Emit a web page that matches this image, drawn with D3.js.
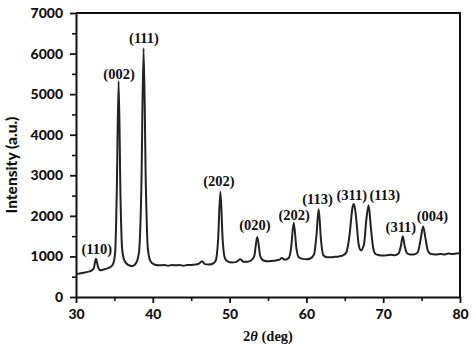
<!DOCTYPE html>
<html>
<head>
<meta charset="utf-8">
<script src="https://cdn.jsdelivr.net/npm/d3@7"></script>
<style>
  body { margin: 0; background: #fff; }
  svg { display: block; }
  .tick text { font-family: Lato, "Open Sans", sans-serif; font-weight: 900; font-size: 14px; fill: #111; }
  .peak { font-family: "Liberation Serif", serif; font-weight: bold; font-size: 14.5px; fill: #111; }
</style>
</head>
<body>
<div id="chart"></div>
<script>
// XRD pattern: 2theta (deg) and intensity (a.u.)
let twoTheta = [30, 30.5, 31, 31.5, 32, 32.3, 32.6, 32.9, 33.2, 33.6, 34, 34.4, 34.8, 35.1, 35.3, 35.55, 35.8, 36.0, 36.3, 36.8,
  37.3, 37.8, 38.2, 38.5, 38.8, 39.1, 39.35, 39.7, 40.2, 40.8, 41.5, 42, 42.5, 43, 43.5, 44, 44.5, 45, 45.6, 46,
  46.4, 46.8, 47.3, 47.8, 48.2, 48.5, 48.8, 49.1, 49.4, 49.8, 50.3, 50.8, 51.4, 51.8, 52.3, 52.8, 53.2, 53.6, 54.0, 54.4,
  55, 55.5, 56, 56.5, 56.8, 57.2, 57.7, 58.0, 58.35, 58.7, 59.0, 59.5, 60, 60.5, 61.0, 61.3, 61.6, 61.9, 62.2, 62.7,
  63.2, 63.7, 64.2, 64.7, 65.2, 65.6, 66.0, 66.2, 66.5, 66.8, 67.1, 67.5, 67.8, 68.1, 68.4, 68.7, 69.0, 69.5, 70, 70.5,
  71, 71.5, 72, 72.3, 72.55, 72.8, 73.1, 73.5, 74, 74.5, 74.9, 75.2, 75.5, 75.8, 76.2, 76.8, 77.5, 78, 78.5, 79, 79.5, 80];
let intensity = [560, 580, 600, 620, 650, 700, 940, 720, 660, 680, 700, 730, 800, 1100, 2500, 5320, 2400, 1200, 900, 790,
  760, 830, 1100, 2600, 6130, 2700, 1200, 880, 800, 780, 790, 770, 790, 780, 790, 770, 790, 790, 800, 820,
  880, 810, 800, 820, 900, 1400, 2600, 1400, 950, 870, 850, 860, 930, 870, 870, 900, 1000, 1480, 1000, 900,
  880, 890, 900, 920, 960, 920, 960, 1200, 1830, 1200, 980, 940, 930, 950, 1050, 1500, 2160, 1400, 1030, 980,
  980, 990, 1000, 1020, 1100, 1500, 2200, 2290, 1900, 1300, 1150, 1300, 1900, 2260, 1700, 1200, 1060, 1030, 1020, 1030,
  1040, 1030, 1070, 1250, 1500, 1250, 1080, 1050, 1050, 1100, 1450, 1740, 1450, 1150, 1060, 1050, 1060, 1050, 1070, 1060, 1070, 1080];

// peak labels: text, 2theta of label centre, intensity at text baseline
let peakNames = ['(110)', '(002)', '(111)', '(202)', '(020)', '(202)', '(113)', '(311)', '(113)', '(311)', '(004)'];
let peakX = [32.7, 35.6, 38.85, 48.6, 53.3, 58.4, 61.45, 65.9, 70.2, 72.3, 76.4];
let peakY = [1060, 5380, 6270, 2730, 1640, 1910, 2280, 2400, 2400, 1590, 1870];

let xTicks = [30, 40, 50, 60, 70, 80];
let yTicks = [0, 1000, 2000, 3000, 4000, 5000, 6000, 7000];

let width = 474, height = 344;
let margin = {top: 13, right: 14, bottom: 47, left: 76};

let svg = d3.select('#chart').append('svg')
  .attr('width', width)
  .attr('height', height);

let x = d3.scaleLinear().domain([30, 80]).range([margin.left, width - margin.right]);
let y = d3.scaleLinear().domain([0, 7000]).range([height - margin.bottom, margin.top]);

// minor ticks
svg.append('g')
  .attr('transform', `translate(0,${y(0)})`)
  .call(d3.axisBottom(x).tickValues(d3.range(35, 80, 10)).tickSize(4).tickFormat(''))
  .call(g => g.select('.domain').remove())
  .call(g => g.selectAll('line').attr('stroke', '#111').attr('stroke-width', 1.6));
svg.append('g')
  .attr('transform', `translate(${x(30)},0)`)
  .call(d3.axisLeft(y).tickValues(d3.range(500, 7000, 1000)).tickSize(4).tickFormat(''))
  .call(g => g.select('.domain').remove())
  .call(g => g.selectAll('line').attr('stroke', '#111').attr('stroke-width', 1.6));

// main axes
svg.append('g')
  .attr('transform', `translate(0,${y(0)})`)
  .call(d3.axisBottom(x).tickValues(xTicks).tickFormat(d3.format('d')).tickSize(6).tickPadding(6).tickSizeOuter(0))
  .call(g => g.select('.domain').attr('stroke', '#111').attr('stroke-width', 2))
  .call(g => g.selectAll('line').attr('stroke', '#111').attr('stroke-width', 1.8));
svg.append('g')
  .attr('transform', `translate(${x(30)},0)`)
  .call(d3.axisLeft(y).tickValues(yTicks).tickFormat(d3.format('d')).tickSize(6).tickPadding(7).tickSizeOuter(0))
  .call(g => g.select('.domain').attr('stroke', '#111').attr('stroke-width', 2))
  .call(g => g.selectAll('line').attr('stroke', '#111').attr('stroke-width', 1.8));

// top and right border
svg.append('path')
  .attr('d', `M${x(30)},${y(7000)}H${x(80)}V${y(0)}`)
  .attr('fill', 'none')
  .attr('stroke', '#111')
  .attr('stroke-width', 2);

let pts = twoTheta.map((t, i) => [t, intensity[i]]);
let line = d3.line().x(d => x(d[0])).y(d => y(d[1])).curve(d3.curveMonotoneX);
svg.append('path')
  .datum(pts)
  .attr('d', line)
  .attr('fill', 'none')
  .attr('stroke', '#222')
  .attr('stroke-width', 2)
  .attr('stroke-linejoin', 'round');

svg.append('g').selectAll('text')
  .data(peakNames)
  .join('text')
    .attr('class', 'peak')
    .attr('x', (d, i) => x(peakX[i]))
    .attr('y', (d, i) => y(peakY[i]))
    .attr('text-anchor', 'middle')
    .text(d => d);

// axis titles
let xt = svg.append('text')
  .attr('x', (x(30) + x(80)) / 2)
  .attr('y', 341)
  .attr('text-anchor', 'middle')
  .attr('font-family', '"Liberation Serif", serif')
  .attr('font-weight', 'bold')
  .attr('font-size', 14.5)
  .attr('fill', '#111');
xt.append('tspan').text('2');
xt.append('tspan').attr('font-style', 'italic').text('θ');
xt.append('tspan').text(' (deg)');

svg.append('text')
  .attr('transform', 'translate(17,165) rotate(-90)')
  .attr('text-anchor', 'middle')
  .attr('font-family', 'Lato, "Open Sans", sans-serif')
  .attr('font-weight', 900)
  .attr('font-size', 15.5)
  .attr('fill', '#111')
  .text('Intensity (a.u.)');
</script>
</body>
</html>
